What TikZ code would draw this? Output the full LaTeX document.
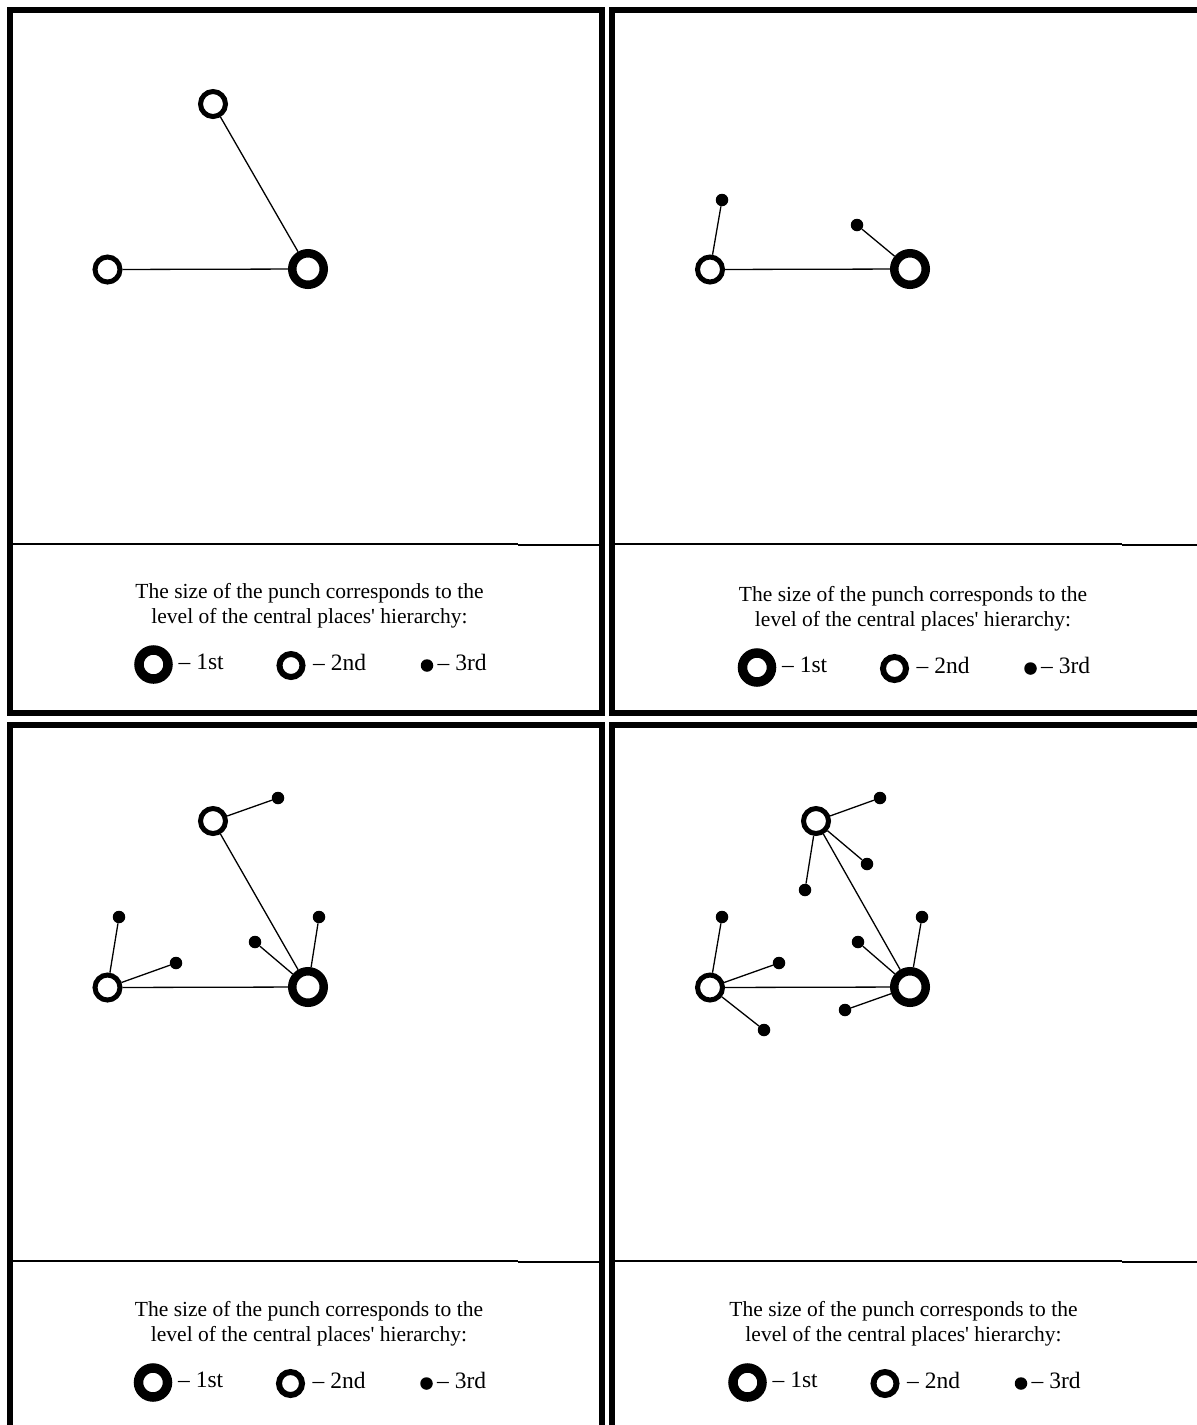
\documentclass[tikz,border=0pt]{standalone}
\usepackage{fontspec}
\setmainfont{Liberation Serif}
\begin{document}
\begin{tikzpicture}[x=1pt,y=-1pt,
  frame/.style={line width=5.5pt},
  divider/.style={line width=2.8pt},
  link/.style={line width=1.3pt},
  first/.style={circle,draw,line width=8.5pt,minimum size=31.5pt,inner sep=0pt},
  second/.style={circle,draw,line width=5pt,minimum size=25pt,inner sep=0pt},
  third/.style={circle,fill,minimum size=12.5pt,inner sep=0pt},
  lfirst/.style={circle,draw,line width=9.5pt,minimum size=29pt,inner sep=0pt},
  lsecond/.style={circle,draw,line width=6pt,minimum size=23pt,inner sep=0pt},
  lthird/.style={circle,fill,minimum size=12.5pt,inner sep=0pt},
  caption/.style={align=center,font=\fontsize{21.5}{25}\selectfont,inner sep=0pt},
  ltext/.style={anchor=base west,font=\fontsize{23.5}{25}\selectfont,inner sep=0pt},
  legendrow/.pic={
    \node[caption] (cap) at (0,12.5) {The size of the punch corresponds to the\\level of the central places\textquotesingle{} hierarchy:};
    \node[lfirst]  (big) at (-156,71) {};
    \node[ltext]   (t1)  at (-131,76) {-- 1st};
    \node[lsecond] (mid) at (-18.5,72) {};
    \node[ltext]   (t2)  at (3.5,77) {-- 2nd};
    \node[lthird]  (dot) at (117.5,72) {};
    \node[ltext]   (t3)  at (128,77) {-- 3rd};
  }]
\useasboundingbox (0,0) rectangle (1197,1425);
\clip (0,0) rectangle (1197,1425);

% panel frames
\draw[frame] (10,10) rectangle (602,713);
\draw[frame] (612,10) rectangle (1210,713);
\draw[frame] (10,725) rectangle (602,1440);
\draw[frame] (612,725) rectangle (1210,1440);

% dividers above the legends
\draw[divider] (10,544) -- (518,544);
\draw[divider,line width=2.4pt] (518,545) -- (602,545);
\draw[divider] (612,544) -- (1122,544);
\draw[divider,line width=2.4pt] (1122,545) -- (1200,545);
\draw[divider] (10,1261) -- (518,1261);
\draw[divider,line width=2.4pt] (518,1262) -- (602,1262);
\draw[divider] (612,1261) -- (1122,1261);
\draw[divider,line width=2.4pt] (1122,1262) -- (1200,1262);

% legends
\pic (LA) at (309.5,593.5) {legendrow};
\pic (LB) at (913,596.5) {legendrow};
\pic (LC) at (309,1311.5) {legendrow};
\pic (LD) at (903.5,1311.5) {legendrow};

% stage 1
\node[first]  (a1) at (308,269) {};
\node[second] (a2) at (107.5,269.5) {};
\node[second] (a3) at (213,104) {};
\draw[link] (a2) -- (a1);
\draw[link] (a3) -- (a1);

% stage 2
\node[first]  (b1) at (910,269) {};
\node[second] (b2) at (710,269.5) {};
\node[third]  (b3) at (722,200) {};
\node[third]  (b4) at (857,225) {};
\draw[link] (b2) -- (b1);
\draw[link] (b2) -- (b3);
\draw[link] (b1) -- (b4);

% stage 3
\node[first]  (c1) at (308,987) {};
\node[second] (c2) at (107.5,987.5) {};
\node[second] (c3) at (213,821) {};
\node[third]  (c4) at (278,798) {};
\node[third]  (c5) at (119,917) {};
\node[third]  (c6) at (176,963) {};
\node[third]  (c7) at (255,942) {};
\node[third]  (c8) at (319,917) {};
\draw[link] (c2) -- (c1);
\draw[link] (c3) -- (c1);
\draw[link] (c3) -- (c4);
\draw[link] (c2) -- (c5);
\draw[link] (c2) -- (c6);
\draw[link] (c1) -- (c7);
\draw[link] (c1) -- (c8);

% stage 4
\node[first]  (d1) at (910,987) {};
\node[second] (d2) at (710,987.5) {};
\node[second] (d3) at (816,821) {};
\node[third]  (d4) at (880,798) {};
\node[third]  (d5) at (867,864) {};
\node[third]  (d6) at (805,890) {};
\node[third]  (d7) at (722,917) {};
\node[third]  (d8) at (779,963) {};
\node[third]  (d9) at (764,1030) {};
\node[third]  (d10) at (858,942) {};
\node[third]  (d11) at (922,917) {};
\node[third]  (d12) at (845,1010) {};
\draw[link] (d2) -- (d1);
\draw[link] (d3) -- (d1);
\draw[link] (d3) -- (d4);
\draw[link] (d3) -- (d5);
\draw[link] (d3) -- (d6);
\draw[link] (d2) -- (d7);
\draw[link] (d2) -- (d8);
\draw[link] (d2) -- (d9);
\draw[link] (d1) -- (d10);
\draw[link] (d1) -- (d11);
\draw[link] (d1) -- (d12);
\end{tikzpicture}
\end{document}
